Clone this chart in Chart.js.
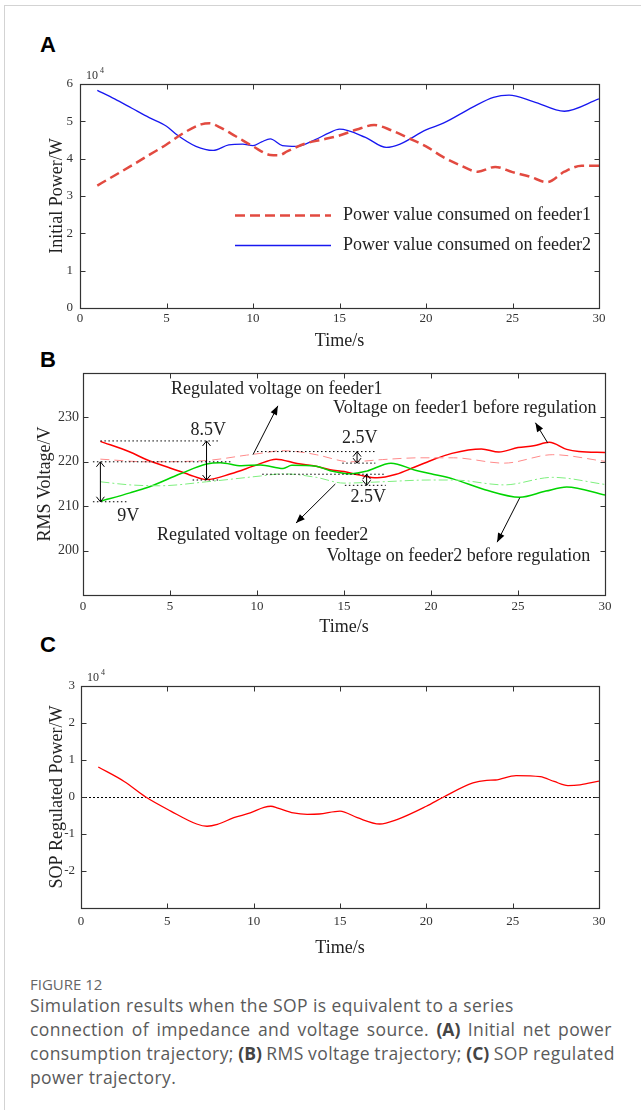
<!DOCTYPE html>
<html><head><meta charset="utf-8">
<script src="https://cdn.jsdelivr.net/npm/chart.js@4.4.0/dist/chart.umd.min.js"></script>
<style>
html,body{margin:0;padding:0;background:#fff;}
body{width:641px;height:1110px;position:relative;overflow:hidden;}
.frame{position:absolute;left:4px;top:5px;width:700px;height:1200px;border-left:1px solid #d3d3d3;border-top:1px solid #d3d3d3;}
.panel{position:absolute;font:bold 22px/22px "Liberation Sans",Arial,sans-serif;color:#000;}
canvas{position:absolute;left:0;}
.fig{position:absolute;left:30px;top:975px;font:15px/18px "Open Sans",sans-serif;color:#666;}
.cap{position:absolute;left:30px;top:993px;font:17.5px/24px "Open Sans",sans-serif;letter-spacing:0.4px;color:#5a5a5a;white-space:nowrap;}
.cap b{color:#444;font-weight:700;letter-spacing:0;}
</style></head><body>
<div class="frame"></div>
<div class="panel" style="left:40px;top:34px">A</div>
<div class="panel" style="left:40px;top:349px">B</div>
<div class="panel" style="left:40px;top:634px">C</div>
<canvas id="cA" width="641" height="296" style="top:60px"></canvas>
<canvas id="cB" width="641" height="290" style="top:356px"></canvas>
<canvas id="cC" width="641" height="304" style="top:656px"></canvas>
<div class="fig">FIGURE 12</div>
<div class="cap"><span>Simulation results when the SOP is equivalent to a series</span><br><span style="word-spacing:2.4px">connection of impedance and voltage source. <b>(A)</b> Initial net power</span><br><span style="word-spacing:-0.5px">consumption trajectory; <b>(B)</b> RMS voltage trajectory; <b>(C)</b> SOP regulated</span><br><span>power trajectory.</span></div>
<script>
// ---------- DATA ----------
// Panel A (power in units of 10^4 W)
const timeA1 = [1,2,3,4,5,6,7,7.5,8,9,10,11,11.5,12,13,14,15,16,17,18,19,20,21,22,23,24,25,26,27,28,29,30];
const powerFeeder1 = [3.28,3.55,3.82,4.1,4.38,4.69,4.92,4.95,4.86,4.6,4.33,4.1,4.09,4.2,4.4,4.51,4.62,4.78,4.9,4.76,4.55,4.33,4.04,3.82,3.65,3.78,3.64,3.52,3.37,3.65,3.81,3.81];
const timeA2 = [1,2,3,4,5,5.6,6.7,7.7,8.6,9.4,10,10.5,11,11.7,12.5,13.6,14.4,15,16.5,17.7,18.5,20,21,22.7,23.9,24.8,26.2,28,30];
const powerFeeder2 = [5.83,5.6,5.35,5.1,4.87,4.64,4.33,4.22,4.37,4.39,4.35,4.45,4.53,4.35,4.33,4.51,4.69,4.79,4.57,4.30,4.39,4.77,4.95,5.38,5.64,5.70,5.53,5.27,5.60];
const labelsA = ['Power value consumed on feeder1','Power value consumed on feeder2'];

// Panel B (RMS voltage, V)
const timeB1 = [1,2.7,3.7,5,5.6,6.1,7.1,8.5,10,11.1,12.3,13.4,14.2,15,15.9,16.9,18,19,20,21.2,22.9,23.9,25,25.9,26.8,27.8,28.5,30];
const voltRegF1 = [224.6,222.2,220.4,218.6,217.8,217.1,216.0,217.3,219.3,220.6,219.6,219.0,218.2,217.8,217.0,216.4,217.2,218.7,220.3,221.9,222.9,222.2,223.2,223.6,224.4,222.8,222.3,222.1];
const timeB2 = [1,3.7,7.1,9.4,10,11.5,12.5,13.4,15.4,17.2,19.4,21.3,24.2,27,30];
const voltBeforeF1 = [220.6,220.0,220.3,221.5,221.8,222.5,222.2,221.6,220.0,220.5,220.9,220.9,219.7,221.6,220.1];
const timeB3 = [1,2.7,3.7,5.6,7.1,7.9,9.1,10.2,11.5,12,13.4,14.2,15.4,16.3,17.7,19.1,20,21.3,23.1,25.1,26.6,27.8,30];
const voltRegF2 = [211.1,213.0,214.2,217.3,219.5,219.8,219.1,219.3,218.5,219.2,219.0,218.0,217.3,217.9,219.7,218.1,217.3,216.1,213.7,212.0,213.4,214.3,212.5];
const timeB4 = [1,2.7,4.4,7.1,10.2,11.5,13.4,15,17.2,19.9,21.3,24.2,27,30];
const voltBeforeF2 = [215.5,214.8,214.6,215.5,216.8,217.3,216.5,215.2,215.5,215.9,215.9,214.8,216.5,214.9];

// Panel C (SOP regulated power, 10^4 W)
const timeC = [1,2.5,3.75,5.2,6.7,7.3,7.9,8.85,9.8,10.6,11,11.4,12.3,13.1,13.8,15,16,17.3,18.3,20,21,22.7,23.5,24,25.2,26.6,27.4,28.2,28.9,30];
const sopPower = [0.81,0.42,0,-0.38,-0.73,-0.79,-0.74,-0.56,-0.43,-0.28,-0.25,-0.30,-0.43,-0.47,-0.46,-0.38,-0.56,-0.73,-0.61,-0.25,0,0.38,0.45,0.46,0.58,0.55,0.42,0.31,0.33,0.43];

const xTicksMin = 0, xTicksMax = 30, xStep = 5;

// ---------- HELPERS ----------
const SERIF = '"Liberation Serif","Times New Roman",serif';
const pts = (xs, ys) => xs.map((x, i) => ({x, y: ys[i]}));

function arrowTo(ctx, x1, y1, x2, y2) {
  ctx.beginPath(); ctx.moveTo(x1, y1); ctx.lineTo(x2, y2); ctx.stroke();
  const ang = Math.atan2(y2 - y1, x2 - x1), L = 9, W = 3.5;
  ctx.beginPath();
  ctx.moveTo(x2, y2);
  ctx.lineTo(x2 - L*Math.cos(ang) + W*Math.sin(ang), y2 - L*Math.sin(ang) - W*Math.cos(ang));
  ctx.lineTo(x2 - L*Math.cos(ang) - W*Math.sin(ang), y2 - L*Math.sin(ang) + W*Math.cos(ang));
  ctx.closePath(); ctx.fill();
}
function dblArrow(ctx, x, y1, y2) {
  ctx.beginPath(); ctx.moveTo(x, y1); ctx.lineTo(x, y2);
  const h = Math.min(5, Math.abs(y2 - y1) / 2.2);
  ctx.moveTo(x - 4, y1 + h); ctx.lineTo(x, y1); ctx.lineTo(x + 4, y1 + h);
  ctx.moveTo(x - 4, y2 - h); ctx.lineTo(x, y2); ctx.lineTo(x + 4, y2 - h);
  ctx.stroke();
}
function hDotted(ctx, x1, x2, yv) {
  ctx.beginPath(); ctx.moveTo(x1, yv); ctx.lineTo(x2, yv); ctx.stroke();
}

const framePlugin = {
  id: 'framebox',
  beforeDatasetsDraw(chart, args, opts) {
    if (opts.zeroLine) {
      const {ctx, chartArea: a, scales: {y}} = chart;
      const py = Math.round(y.getPixelForValue(0)) + 0.5;
      ctx.save(); ctx.strokeStyle = '#000'; ctx.lineWidth = 1; ctx.setLineDash([2, 2]);
      ctx.beginPath(); ctx.moveTo(a.left, py); ctx.lineTo(a.right, py); ctx.stroke();
      ctx.restore();
    }
  },
  afterDraw(chart, args, opts) {
    const {ctx, chartArea: a, scales: {x, y}} = chart;
    ctx.save();
    ctx.strokeStyle = '#333'; ctx.lineWidth = 1.2;
    const L = Math.round(a.left) + 0.5, T = Math.round(a.top) + 0.5, R = Math.round(a.right) + 0.5, B = Math.round(a.bottom) + 0.5;
    ctx.strokeRect(L, T, R - L, B - T);
    ctx.lineWidth = 1;
    ctx.beginPath();
    x.ticks.forEach(t => {
      const p = Math.round(x.getPixelForValue(t.value)) + 0.5;
      ctx.moveTo(p, B); ctx.lineTo(p, B - 5);
      ctx.moveTo(p, T); ctx.lineTo(p, T + 5);
    });
    y.ticks.forEach(t => {
      const p = Math.round(y.getPixelForValue(t.value)) + 0.5;
      ctx.moveTo(L, p); ctx.lineTo(L + 5, p);
      ctx.moveTo(R, p); ctx.lineTo(R - 5, p);
    });
    ctx.stroke();
    if (opts.exponent) {
      ctx.fillStyle = '#333'; ctx.textBaseline = 'alphabetic'; ctx.textAlign = 'left';
      ctx.font = '12px ' + SERIF;
      ctx.fillText('10', a.left + 6, a.top - 5);
      ctx.font = '8px ' + SERIF;
      ctx.fillText('4', a.left + 20, a.top - 11);
    }
    if (opts.legend) {
      const lg = opts.legend;
      chart.data.datasets.forEach((ds, i) => {
        const yy = lg.y + i * lg.gap;
        ctx.strokeStyle = ds.borderColor; ctx.lineWidth = ds.borderWidth;
        ctx.setLineDash(ds.borderDash || []);
        ctx.beginPath(); ctx.moveTo(lg.x1, yy); ctx.lineTo(lg.x2, yy); ctx.stroke();
        ctx.setLineDash([]);
        ctx.fillStyle = '#222'; ctx.font = '18px ' + SERIF; ctx.textBaseline = 'middle';
        ctx.fillText(ds.label, lg.tx, yy);
      });
    }
    if (opts.annotate) opts.annotate(chart);
    ctx.restore();
  }
};
Chart.register(framePlugin);

function axisCfg(o) {
  return {
    x: {
      type: 'linear', min: xTicksMin, max: xTicksMax,
      ticks: {stepSize: xStep, color: '#333', font: {family: SERIF, size: 13}, padding: o.xPad, maxRotation: 0},
      grid: {display: false, drawTicks: false}, border: {display: false},
      title: {display: true, text: 'Time/s', color: '#222', font: {family: SERIF, size: 18}, padding: {top: 0, bottom: o.xTitlePad}},
      afterFit(s) { s.height = o.xH; }
    },
    y: {
      type: 'linear', min: o.yMin, max: o.yMax,
      ticks: {stepSize: o.yStep, color: '#333', font: {family: SERIF, size: o.ySize || 13}, padding: o.yPad, callback: o.yCb},
      grid: {display: false, drawTicks: false}, border: {display: false},
      title: {display: true, text: o.yTitle, color: '#222', font: {family: SERIF, size: 18}, padding: {top: o.yTitlePad, bottom: 0}},
      afterFit(s) { s.width = o.yW; }
    }
  };
}
const baseOpts = {responsive: false, animation: false, events: [],
  elements: {point: {radius: 0}, line: {tension: 0.4, cubicInterpolationMode: 'monotone'}}};

// ---------- PANEL A ----------
new Chart(document.getElementById('cA'), {
  type: 'line',
  data: {datasets: [
    {label: labelsA[0], data: pts(timeA1, powerFeeder1), borderColor: '#e24a40', borderWidth: 2.5, borderDash: [10, 5], fill: false},
    {label: labelsA[1], data: pts(timeA2, powerFeeder2), borderColor: '#1818f0', borderWidth: 1.3, fill: false}
  ]},
  options: Object.assign({}, baseOpts, {
    layout: {padding: {top: 24, right: 42, left: 0, bottom: 0}},
    scales: axisCfg({xPad: 3, xTitlePad: 4, xH: 48, yMin: 0, yMax: 6, yStep: 1, yPad: 7, yW: 80, yTitle: 'Initial Power/W', yTitlePad: 46}),
    plugins: {legend: {display: false}, tooltip: {enabled: false},
      framebox: {exponent: true, legend: {x1: 235, x2: 331, tx: 343, y: 155.5, gap: 30}}}
  })
});

// ---------- PANEL B ----------
const annoB = function(chart) {
  const {ctx, scales: {x, y}} = chart;
  const X = v => x.getPixelForValue(v), Y = v => y.getPixelForValue(v);
  ctx.strokeStyle = '#000'; ctx.fillStyle = '#000'; ctx.lineWidth = 1;
  // dotted reference lines
  ctx.setLineDash([1.5, 2.5]);
  hDotted(ctx, X(1.0), X(7.8), Y(224.7));
  hDotted(ctx, X(0.57), X(8.6), Y(220));
  hDotted(ctx, X(0.57), X(2.6), Y(211));
  hDotted(ctx, X(6.3), X(7.8), Y(215.9));
  hDotted(ctx, X(10.0), X(16.8), Y(222.3));
  hDotted(ctx, X(14.9), X(16.8), Y(219.7));
  hDotted(ctx, X(10.3), X(17.4), Y(217.2));
  hDotted(ctx, X(15.05), X(17.4), Y(214.7));
  ctx.setLineDash([]);
  // double arrows
  dblArrow(ctx, X(1.0), Y(220), Y(211));
  dblArrow(ctx, X(7.1), Y(224.7), Y(215.9));
  dblArrow(ctx, X(15.75), Y(222.3), Y(219.7));
  dblArrow(ctx, X(16.3), Y(217.2), Y(214.7));
  // pointer arrows
  arrowTo(ctx, X(9.77), Y(221.6), X(11.2), Y(232.6));
  arrowTo(ctx, X(26.7), Y(224.3), X(26.0), Y(228.8));
  arrowTo(ctx, X(14.5), Y(215.0), X(12.24), Y(206.2));
  arrowTo(ctx, X(25.1), Y(211.9), X(23.8), Y(201.9));
  // texts
  ctx.fillStyle = '#222'; ctx.textBaseline = 'middle';
  ctx.font = '18px ' + SERIF; ctx.textAlign = 'center';
  ctx.fillText('8.5V', X(7.2), Y(227.2));
  ctx.fillText('9V', X(2.6), Y(207.8));
  ctx.fillText('2.5V', X(15.9), Y(225.4));
  ctx.fillText('2.5V', X(16.4), Y(212.1));
  ctx.font = '18px ' + SERIF; ctx.textAlign = 'left';
  ctx.fillText('Regulated voltage on feeder1', X(5.06), Y(236.3));
  ctx.fillText('Voltage on feeder1 before regulation', X(14.37), Y(232.0));
  ctx.fillText('Regulated voltage on feeder2', X(4.25), Y(203.5));
  ctx.fillText('Voltage on feeder2 before regulation', X(14.0), Y(198.8));
};
new Chart(document.getElementById('cB'), {
  type: 'line',
  data: {datasets: [
    {label: 'Voltage on feeder1 before regulation', data: pts(timeB2, voltBeforeF1), borderColor: '#ff8a8a', borderWidth: 1, borderDash: [9, 5]},
    {label: 'Voltage on feeder2 before regulation', data: pts(timeB4, voltBeforeF2), borderColor: '#7eef7e', borderWidth: 1, borderDash: [9, 3, 2, 3]},
    {label: 'Regulated voltage on feeder2', data: pts(timeB3, voltRegF2), borderColor: '#00d400', borderWidth: 1.5},
    {label: 'Regulated voltage on feeder1', data: pts(timeB1, voltRegF1), borderColor: '#ff0000', borderWidth: 1.5}
  ]},
  options: Object.assign({}, baseOpts, {
    layout: {padding: {top: 17, right: 36, left: 0, bottom: 0}},
    scales: axisCfg({xPad: 4, xTitlePad: 8, xH: 51, yMin: 190, yMax: 240, yStep: 10, yPad: 4, yW: 83, ySize: 14,
      yCb: v => (v === 190 || v === 240) ? '' : String(v), yTitle: 'RMS Voltage/V', yTitlePad: 34}),
    plugins: {legend: {display: false}, tooltip: {enabled: false}, framebox: {annotate: annoB}}
  })
});

// ---------- PANEL C ----------
new Chart(document.getElementById('cC'), {
  type: 'line',
  data: {datasets: [
    {label: 'SOP regulated power', data: pts(timeC, sopPower), borderColor: '#ff0000', borderWidth: 1.3}
  ]},
  options: Object.assign({}, baseOpts, {
    layout: {padding: {top: 30, right: 42, left: 0, bottom: 0}},
    scales: axisCfg({xPad: 6, xTitlePad: 1, xH: 52, yMin: -3, yMax: 3, yStep: 1, yPad: 6, yW: 81,
      yCb: v => v === -3 ? '' : String(v), yTitle: 'SOP Regulated Power/W', yTitlePad: 46}),
    plugins: {legend: {display: false}, tooltip: {enabled: false}, framebox: {exponent: true, zeroLine: true}}
  })
});
</script>
</body></html>
